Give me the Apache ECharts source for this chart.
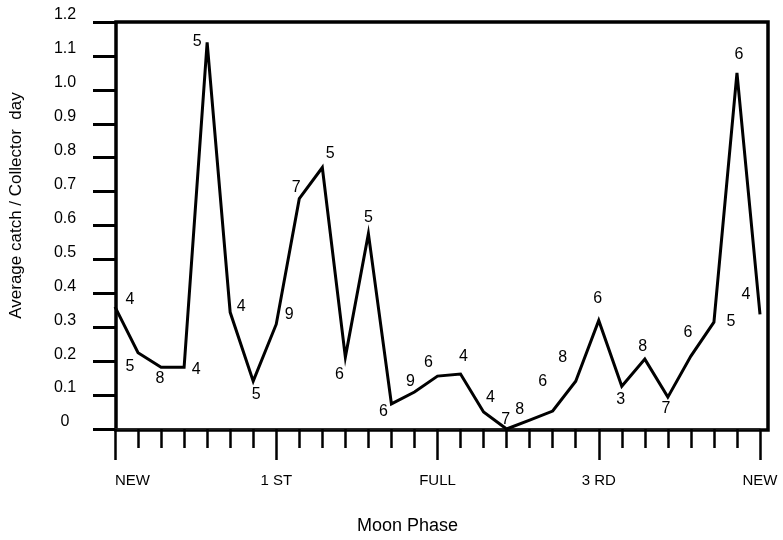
<!DOCTYPE html>
<html><head><meta charset="utf-8">
<script src="https://cdn.jsdelivr.net/npm/echarts@6/dist/echarts.min.js"></script>
<style>html,body{margin:0;padding:0;background:#fff}#c{width:783px;height:540px}</style>
</head><body><div id="c"></div>
<script>
// day index within lunar cycle (29 days, NEW -> NEW)
const days = ['0','1','2','3','4','5','6','7','8','9','10','11','12','13','14','15','16','17','18','19','20','21','22','23','24','25','26','27','28'];
// phase tick labels at every 7th day
const phaseLabels = ['NEW','1 ST','FULL','3 RD','NEW'];
// average catch per collector day
const avgCatch = [0.36,0.225,0.182,0.182,1.14,0.344,0.141,0.309,0.679,0.771,0.212,0.576,0.074,0.109,0.156,0.162,0.05,0,0.026,0.053,0.141,0.32,0.126,0.206,0.094,0.215,0.315,1.05,0.338];
// number annotated next to each point
const pointNotes = [4,5,8,4,5,4,5,9,7,5,6,5,6,9,6,4,4,7,8,6,8,6,3,8,7,6,5,6,4];
// y-axis tick labels
const yTickLabels = ['0','0.1','0.2','0.3','0.4','0.5','0.6','0.7','0.8','0.9','1.0','1.1','1.2'];

// label placement (style only)
const noteOffsets = [[15,-7],[-8,14],[-1,11],[12,2],[-10,-1],[11,-6],[3,13],[13,-10],[-3,-11],[8,-14],[-6,17],[0,-16],[-8,8],[-4,-10],[-9,-13],[3,-17],[7,-14],[-1,-9],[-10,-11],[-10,-29],[-13,-24],[-1,-22],[-1,13],[-2,-13],[-2,11],[-3,-23],[17,-1],[2,-18],[-14,-20]];

const FONT = '"Liberation Sans", Arial, sans-serif';
const chart = echarts.init(document.getElementById('c'), null, {renderer:'canvas'});

chart.setOption({
  animation: false,
  backgroundColor: '#fff',
  grid: [
    {left:110, right:23, top:22, bottom:110, containLabel:false},
    {left:116, right:15, top:22, bottom:110, show:true, borderColor:'#000', borderWidth:3.5, backgroundColor:'transparent'}
  ],
  xAxis: [
    {
      type:'category', gridIndex:0, data: days, boundaryGap:false, offset:4,
      axisLine:{show:true, lineStyle:{color:'#222', width:1.5}},
      axisTick:{show:true, interval:0, length:19, lineStyle:{color:'#000', width:2.5}},
      axisLabel:{
        interval:6, margin:40, color:'#000', fontFamily:FONT, fontSize:15,
        alignMinLabel:'left',
        formatter:(val, idx)=> (idx % 7 === 0 ? phaseLabels[idx/7] : '')
      },
      name:'Moon Phase', nameLocation:'middle', nameGap:84,
      nameTextStyle:{color:'#000', fontFamily:FONT, fontSize:18, padding:[0,60,0,0]}
    },
    {
      type:'category', gridIndex:0, data: days, boundaryGap:false, offset:4, position:'bottom',
      axisLine:{show:false},
      axisTick:{show:true, interval:6, length:27, lineStyle:{color:'#000', width:2.5}},
      axisLabel:{show:false}
    },
    {type:'value', gridIndex:1, show:false, min:0, max:1}
  ],
  yAxis: [
    {
      type:'value', gridIndex:0, min:0, max:1.2, interval:0.1,
      splitLine:{show:false},
      axisLine:{show:false},
      axisTick:{show:true, length:22, lineStyle:{color:'#000', width:3}},
      axisLabel:{
        color:'#000', fontFamily:FONT, fontSize:16, margin:50, align:'center',
        verticalAlign:'bottom', lineHeight:14,
        formatter:(v)=> yTickLabels[Math.round(v*10)]
      },
      name:'Average catch / Collector  day', nameLocation:'middle', nameGap:90,
      nameTextStyle:{color:'#000', fontFamily:FONT, fontSize:17, padding:[0,0,0,40]}
    },
    {type:'value', gridIndex:1, show:false, min:0, max:1}
  ],
  series: [{
    type:'line', xAxisIndex:0, yAxisIndex:0, data: avgCatch,
    clip:false,
    symbol:'circle', symbolSize:1, showSymbol:true,
    itemStyle:{color:'rgba(0,0,0,0)'},
    lineStyle:{color:'#000', width:3, join:'miter'},
    label:{
      show:true, position:'inside', color:'#000', fontFamily:FONT, fontSize:16,
      formatter:(p)=> String(pointNotes[p.dataIndex])
    },
    labelLayout:(p)=>({dx: noteOffsets[p.dataIndex][0], dy: noteOffsets[p.dataIndex][1], hideOverlap:false})
  }]
});
</script></body></html>
